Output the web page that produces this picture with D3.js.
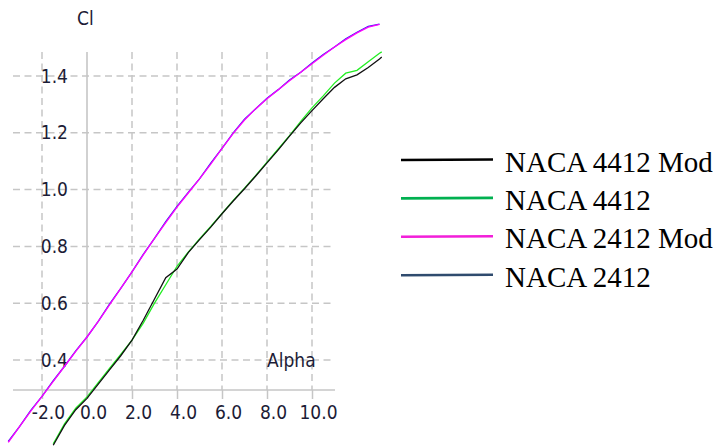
<!DOCTYPE html>
<html>
<head>
<meta charset="utf-8">
<script src="https://cdn.jsdelivr.net/npm/d3@7"></script>
<style>
  body { margin: 0; background: #fff; }
  svg { display: block; }
</style>
</head>
<body>
<div id="chart"></div>
<script>
// DATA
const alpha2412 = [-3.5, -3.0, -2.5, -2.0, -1.5, -1.0, -0.5, 0.0, 0.5, 1.0, 1.5, 2.0, 2.5, 3.0, 3.5, 4.0,
  4.5, 5.0, 5.5, 6.0, 6.5, 7.0, 7.5, 8.0, 8.5, 9.0, 9.5, 10.0, 10.5, 11.0, 11.5, 12.0, 12.5, 13.0];
const cl2412Mod = [0.11, 0.165, 0.22, 0.272, 0.325, 0.378, 0.43, 0.481, 0.536, 0.594, 0.652, 0.71, 0.77, 0.828, 0.884, 0.938,
  0.988, 1.038, 1.09, 1.145, 1.198, 1.245, 1.285, 1.32, 1.352, 1.383, 1.413, 1.443, 1.473, 1.502, 1.528, 1.552, 1.572, 1.582];
const cl2412 = [0.113, 0.165, 0.223, 0.272, 0.327, 0.378, 0.432, 0.481, 0.536, 0.597, 0.652, 0.71, 0.772, 0.828, 0.887, 0.941,
  0.99, 1.038, 1.093, 1.145, 1.2, 1.248, 1.285, 1.322, 1.352, 1.386, 1.413, 1.446, 1.476, 1.502, 1.531, 1.554, 1.575, 1.583];

const alpha4412 = [-1.5, -1.0, -0.5, 0.0, 0.5, 1.0, 1.5, 2.0, 2.5, 3.0, 3.5, 4.0, 4.5, 5.0, 5.5, 6.0, 6.5, 7.0,
  7.5, 8.0, 8.5, 9.0, 9.5, 10.0, 10.5, 11.0, 11.5, 12.0, 12.5, 13.0, 13.1];
const cl4412Mod = [0.1, 0.17, 0.225, 0.265, 0.315, 0.365, 0.415, 0.47, 0.54, 0.615, 0.69, 0.72, 0.778, 0.824, 0.868, 0.915, 0.96, 1.003,
  1.048, 1.094, 1.14, 1.188, 1.235, 1.278, 1.32, 1.36, 1.39, 1.404, 1.43, 1.46, 1.467];
const cl4412 = [0.105, 0.175, 0.23, 0.27, 0.32, 0.37, 0.42, 0.47, 0.53, 0.6, 0.665, 0.73, 0.78, 0.826, 0.87, 0.916, 0.962, 1.005,
  1.05, 1.097, 1.143, 1.19, 1.24, 1.288, 1.33, 1.375, 1.41, 1.42, 1.45, 1.48, 1.485];

const xTicks = [-2, 0, 2, 4, 6, 8, 10];
const yTicks = [0.4, 0.6, 0.8, 1.0, 1.2, 1.4];

const legendNames = ["NACA 4412 Mod", "NACA 4412", "NACA 2412 Mod", "NACA 2412"];
const legendColors = ["#000000", "#00b050", "#f21fd9", "#2f4b6e"];

// LAYOUT
const WIDTH = 717, HEIGHT = 448;
const PLOT = { LEFT: 13, RIGHT: 335, TOP: 52, AXIS_Y: 390 };
const GRID = "#c6c6c6";
const TEXT = "#1c1c36";
const FONT = "'DejaVu Sans Condensed', 'DejaVu Sans', sans-serif";

const svg = d3.select("#chart")
  .append("svg")
  .attr("width", WIDTH)
  .attr("height", HEIGHT);

// SCALE
const x = d3.scaleLinear().domain([-2, 10]).range([42, 312]);
const y = d3.scaleLinear().domain([0.4, 1.4]).range([360, 76]);

// GRID
svg.append("g")
  .selectAll("line")
  .data(yTicks)
  .enter()
  .append("line")
  .attr("x1", PLOT.LEFT)
  .attr("x2", PLOT.RIGHT)
  .attr("y1", (d) => y(d))
  .attr("y2", (d) => y(d))
  .attr("stroke", GRID)
  .attr("stroke-width", 1.5)
  .attr("stroke-dasharray", "7,4.5");

svg.append("g")
  .selectAll("line")
  .data(xTicks.filter((d) => d !== 0))
  .enter()
  .append("line")
  .attr("x1", (d) => x(d))
  .attr("x2", (d) => x(d))
  .attr("y1", PLOT.TOP)
  .attr("y2", PLOT.AXIS_Y)
  .attr("stroke", GRID)
  .attr("stroke-width", 1.5)
  .attr("stroke-dasharray", "7,4.5");

// AXIS
const fmt = (d) => d.toFixed(1);

const xAxis = svg.append("g")
  .attr("transform", `translate(0, ${PLOT.AXIS_Y})`)
  .call(d3.axisBottom(x).tickValues(xTicks).tickSize(9).tickPadding(7).tickFormat(fmt))
  .call((g) => g.select(".domain").remove());
xAxis.selectAll(".tick line").attr("stroke", GRID).attr("stroke-width", 1.5);
xAxis.selectAll(".tick text")
  .attr("dx", 6)
  .attr("fill", TEXT)
  .style("font-family", FONT)
  .style("font-size", "19px");

const yAxis = svg.append("g")
  .attr("transform", `translate(${x(0)}, 0)`)
  .call(d3.axisLeft(y).tickValues(yTicks).tickSize(0).tickPadding(19).tickFormat(fmt))
  .call((g) => g.select(".domain").remove());
yAxis.selectAll(".tick text")
  .attr("fill", TEXT)
  .style("font-family", FONT)
  .style("font-size", "19px");

svg.append("line")
  .attr("x1", PLOT.LEFT)
  .attr("x2", PLOT.RIGHT)
  .attr("y1", PLOT.AXIS_Y)
  .attr("y2", PLOT.AXIS_Y)
  .attr("stroke", GRID)
  .attr("stroke-width", 1.6);

svg.append("line")
  .attr("x1", x(0))
  .attr("x2", x(0))
  .attr("y1", PLOT.TOP)
  .attr("y2", PLOT.AXIS_Y + 8)
  .attr("stroke", GRID)
  .attr("stroke-width", 1.6);

// LABELS
svg.append("text")
  .attr("x", 77)
  .attr("y", 25)
  .attr("fill", TEXT)
  .style("font-family", FONT)
  .style("font-size", "19px")
  .text("Cl");

svg.append("text")
  .attr("x", x(8))
  .attr("y", 367)
  .attr("fill", TEXT)
  .style("font-family", FONT)
  .style("font-size", "19px")
  .text("Alpha");

// CURVES
const line = d3.line()
  .x((d) => x(d[0]))
  .y((d) => y(d[1]));

const curves = [
  { a: alpha2412, c: cl2412, color: "#2a2af0" },
  { a: alpha2412, c: cl2412Mod, color: "#ff00ff" },
  { a: alpha4412, c: cl4412, color: "#22ee22" },
  { a: alpha4412, c: cl4412Mod, color: "#111111" },
];

svg.append("g")
  .selectAll("path")
  .data(curves)
  .enter()
  .append("path")
  .attr("d", (d) => line(d.a.map((v, i) => [v, d.c[i]])))
  .attr("fill", "none")
  .attr("stroke", (d) => d.color)
  .attr("stroke-width", 1.3);

// LEGEND
const legend = svg.append("g")
  .selectAll("g")
  .data(legendNames)
  .enter()
  .append("g")
  .attr("transform", (d, i) => `translate(0, ${171.5 + i * 38.4})`);

legend.append("line")
  .attr("x1", 401)
  .attr("x2", 493)
  .attr("y1", -11.5)
  .attr("y2", -12)
  .attr("stroke", (d, i) => legendColors[i])
  .attr("stroke-width", 2.6);

legend.append("text")
  .attr("x", 505)
  .attr("y", 0)
  .attr("fill", "#000")
  .style("font-family", "'Liberation Serif', 'Times New Roman', serif")
  .style("font-size", "29px")
  .text((d) => d);
</script>
</body>
</html>
